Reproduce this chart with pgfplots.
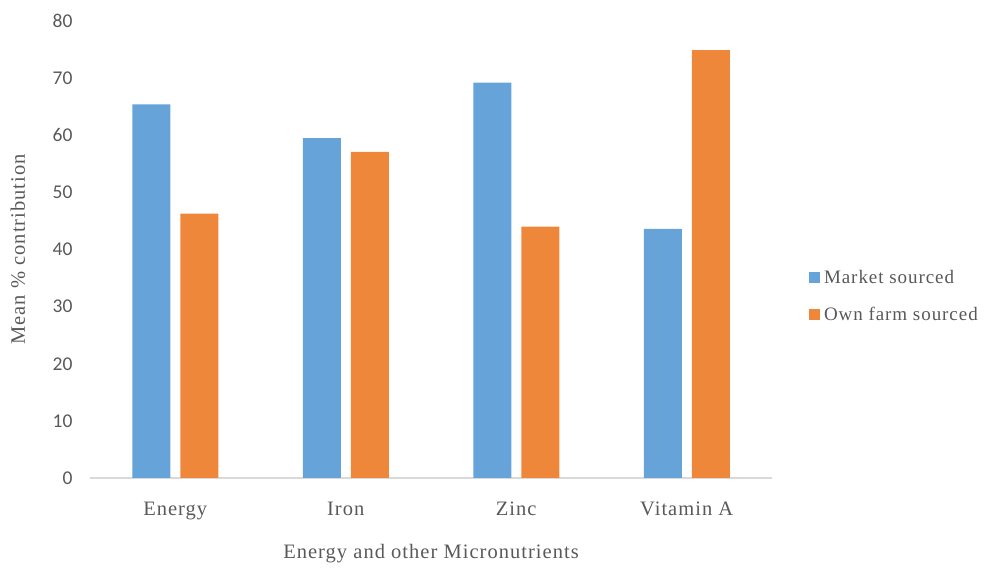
\documentclass[border=0pt]{standalone}
\usepackage{pgfplots}
\pgfplotsset{compat=1.18}
\usepackage{fontspec}
\setmainfont{Liberation Serif}[LetterSpace=5]
\newfontfamily\numfont{Carlito}
\definecolor{mblue}{HTML}{65A3D9}
\definecolor{morange}{HTML}{EF873A}
\definecolor{txt}{HTML}{595959}
\definecolor{axl}{HTML}{D9D9D9}
\begin{document}
\begin{tikzpicture}[x=1pt,y=1pt]
\path[use as bounding box] (0,0) rectangle (984,567);
\begin{axis}[
  at={(90pt,89pt)}, anchor=south west,
  scale only axis, width=682pt, height=457pt,
  ybar=10pt, bar width=38pt,
  xmin=-0.5, xmax=3.5, ymin=0, ymax=80,
  xtick=data, xticklabels={Energy,Iron,Zinc,Vitamin A},
  ytick={0,10,...,80},
  axis y line*=left,
  axis x line*=bottom,
  y axis line style={draw=none},
  x axis line style={axl, line width=1.5pt, -},
  xtick style={draw=none}, ytick style={draw=none},
  every tick label/.style={txt},
  xticklabel style={font=\fontsize{20.5}{22}\selectfont, yshift=-16pt},
  yticklabel style={font=\numfont\fontsize{19.5}{20}\selectfont, xshift=-14pt},
  /pgf/number format/assume math mode=true,
  xlabel={Energy and other Micronutrients},
  ylabel={Mean \% contribution},
  label style={txt, font=\fontsize{20.5}{22}\selectfont},
  xlabel style={yshift=-18pt},
  ylabel style={at={(axis description cs:-0.1056,0.5)}, anchor=center, rotate=0},
  legend style={draw=none, at={(1.054,0.398)}, anchor=west, font=\fontsize{19}{20}\selectfont, text=txt, row sep=18pt,
    inner xsep=0pt, inner ysep=0pt, legend cell align=left,
    nodes={inner xsep=4pt}},
  legend image code/.code={\fill[#1] (0pt,-5.5pt) rectangle (11pt,5.5pt);},
]
\addplot[fill=mblue, draw=none] coordinates {(0,65.4) (1,59.5) (2,69.2) (3,43.6)};
\addplot[fill=morange, draw=none] coordinates {(0,46.3) (1,57.1) (2,44.0) (3,74.9)};
\legend{Market sourced, Own farm sourced}
\end{axis}
\end{tikzpicture}
\end{document}
